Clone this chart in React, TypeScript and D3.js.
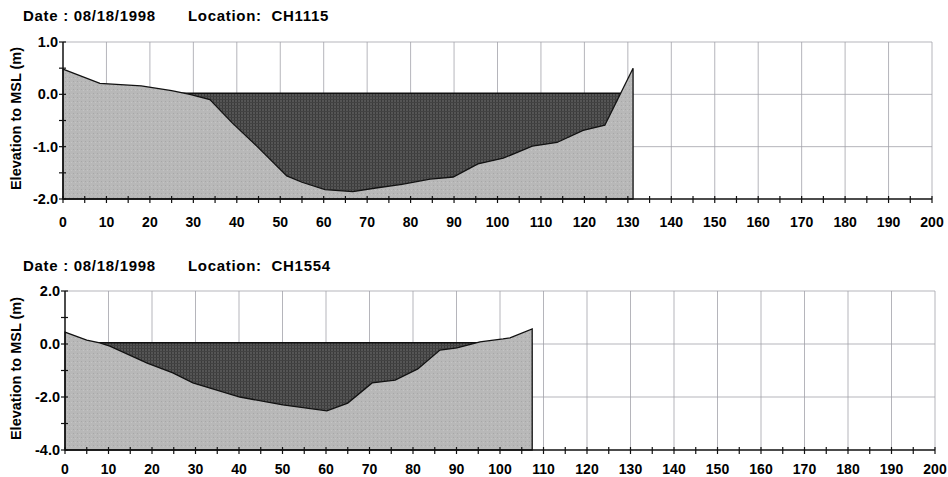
import * as d3 from "d3";

// CH1115 cross-section (station m, elevation m)
const ch1115Station = [0, 8.5, 18, 25, 29.2, 33.8, 39, 44.6, 51.5, 55, 60.3, 66.7, 72, 78, 84.5, 89.8, 95.5, 101.3, 108, 113.7, 119.7, 124.7, 131.2];
const ch1115Elev = [0.48, 0.21, 0.16, 0.07, 0.0, -0.1, -0.55, -0.99, -1.56, -1.68, -1.82, -1.86, -1.79, -1.72, -1.62, -1.58, -1.33, -1.22, -0.99, -0.92, -0.69, -0.59, 0.5];
const ch1115Water = 0.02;

// CH1554 cross-section
const ch1554Station = [0, 5, 8, 10.3, 18.9, 24.8, 29.4, 40.2, 50.1, 60.2, 65, 70.6, 75.9, 81.1, 86.2, 90.1, 95.4, 100.7, 102.3, 107.4];
const ch1554Elev = [0.45, 0.15, 0.04, -0.08, -0.72, -1.09, -1.47, -2.0, -2.3, -2.52, -2.23, -1.47, -1.36, -0.94, -0.23, -0.15, 0.08, 0.19, 0.23, 0.57];
const ch1554Water = 0.05;

const xTicks = [0, 10, 20, 30, 40, 50, 60, 70, 80, 90, 100, 110, 120, 130, 140, 150, 160, 170, 180, 190, 200];
const ch1115YTicks = [-2, -1, 0, 1];
const ch1554YTicks = [-4, -2, 0, 2];

const font = "'Liberation Sans', Arial, sans-serif";

function Panel({ station, elev, water, yTicks, minorStep, loc, box, titleY, labelGap }) {
  const x = d3.scaleLinear().domain([0, 200]).range([box.left, box.right]);
  const yMin = yTicks[0], yMax = yTicks[yTicks.length - 1];
  const y = d3.scaleLinear().domain([yMin, yMax]).range([box.bottom, box.top]);
  const last = station.length - 1;

  const pts: [number, number][] = station.map((s, i) => [x(s), y(elev[i])]);
  pts.push([x(station[last]), y(yMin)], [x(0), y(yMin)]);
  const ground = d3.line()(pts) + "Z";

  const minorX = d3.range(0, 201, 5);
  const minorY = d3.range(yMin, yMax + 0.001, minorStep);

  return (
    <g>
      <text x={23} y={titleY} fontFamily={font} fontWeight="bold" fontSize={15} letterSpacing={0.7}>Date : 08/18/1998</text>
      <text x={188} y={titleY} fontFamily={font} fontWeight="bold" fontSize={15} letterSpacing={0.7} style={{ whiteSpace: "pre" }}>{"Location:  " + loc}</text>
      <text transform={`translate(21,${(box.top + box.bottom) / 2 - 2}) rotate(-90)`} textAnchor="middle"
        fontFamily={font} fontWeight="bold" fontSize={14.5}>Elevation to MSL (m)</text>

      {/* grid */}
      {xTicks.slice(1).map(t => (
        <line key={"gx" + t} x1={x(t)} x2={x(t)} y1={box.top} y2={box.bottom} stroke="#a2a2aa" strokeWidth={0.8} />
      ))}
      {yTicks.slice(1).map(t => (
        <line key={"gy" + t} x1={box.left} x2={box.right} y1={y(t)} y2={y(t)} stroke="#a2a2aa" strokeWidth={0.8} />
      ))}

      {/* water then ground over it */}
      <rect x={x(0)} y={y(water)} width={x(station[last]) - x(0)} height={y(yMin) - y(water)} fill="url(#waterPat)" />
      <line x1={x(0)} x2={x(station[last])} y1={y(water)} y2={y(water)} stroke="#111" strokeWidth={1.5} />
      <path d={ground} fill="url(#groundPat)" stroke="#111" strokeWidth={1.3} />

      {/* axes */}
      <line x1={box.left} x2={box.right} y1={box.bottom} y2={box.bottom} stroke="#111" strokeWidth={1.5} />
      <line x1={box.left} x2={box.left} y1={box.top} y2={box.bottom} stroke="#111" strokeWidth={1.5} />
      {minorX.map(t => (
        <line key={"tx" + t} x1={x(t)} x2={x(t)} y1={box.bottom - 3} y2={box.bottom + 4} stroke="#111" strokeWidth={1.2} />
      ))}
      {minorY.map(t => (
        <line key={"ty" + t} x1={box.left - 4} x2={box.left + 3} y1={y(t)} y2={y(t)} stroke="#111" strokeWidth={1.2} />
      ))}
      {xTicks.map(t => (
        <text key={"lx" + t} x={x(t)} y={box.bottom + labelGap} textAnchor="middle" fontFamily={font} fontWeight="bold" fontSize={14}>{t}</text>
      ))}
      {yTicks.map(t => (
        <text key={"ly" + t} x={box.left - 5} y={y(t) + 5} textAnchor="end" fontFamily={font} fontWeight="bold" fontSize={14.5}>{t.toFixed(1)}</text>
      ))}
    </g>
  );
}

export default function App() {
  return (
    <svg width={948} height={477} style={{ position: "absolute", left: 0, top: 0, background: "#fff" }}>
      <defs>
        <pattern id="waterPat" width={3} height={3} patternUnits="userSpaceOnUse">
          <rect width={3} height={3} fill="#555" />
          <rect width={1} height={3} fill="#3a3a3a" />
          <rect width={3} height={1} fill="#424242" />
        </pattern>
        <pattern id="groundPat" width={4} height={4} patternUnits="userSpaceOnUse">
          <rect width={4} height={4} fill="#b8b8b8" />
          <rect x={1} y={1} width={1} height={1} fill="#a7a7a7" />
          <rect x={3} y={2} width={1} height={1} fill="#c4c4c4" />
        </pattern>
      </defs>
      <Panel station={ch1115Station} elev={ch1115Elev} water={ch1115Water} yTicks={ch1115YTicks} minorStep={0.5}
        loc="CH1115" box={{ left: 63, right: 932, top: 42, bottom: 199 }} titleY={21} labelGap={28} />
      <Panel station={ch1554Station} elev={ch1554Elev} water={ch1554Water} yTicks={ch1554YTicks} minorStep={1}
        loc="CH1554" box={{ left: 65, right: 935, top: 291, bottom: 450 }} titleY={271} labelGap={24} />
    </svg>
  );
}
